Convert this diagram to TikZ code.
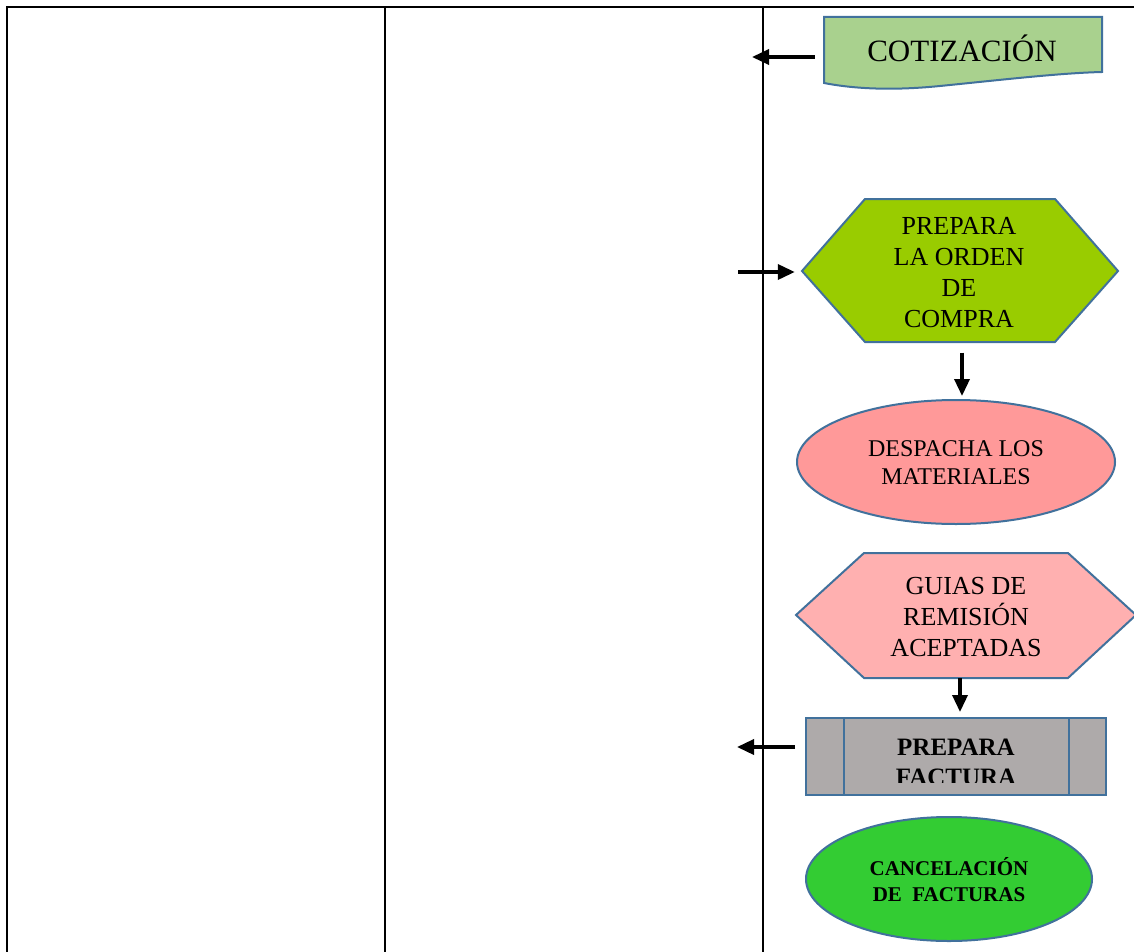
\documentclass[tikz,border=0pt]{standalone}
\usepackage{fontspec}
\setmainfont{Liberation Serif}
\usetikzlibrary{arrows.meta,shapes.geometric}

\definecolor{edgeblue}{HTML}{41719C}
\definecolor{docgreen}{HTML}{A9D18E}
\definecolor{ordergreen}{HTML}{99CC00}
\definecolor{salmon}{HTML}{FF9999}
\definecolor{lightpink}{HTML}{FFB0B0}
\definecolor{boxgray}{HTML}{AEAAAA}
\definecolor{brightgreen}{HTML}{33CC33}

\tikzset{
  grid/.style={line width=2pt, black},
  shapeline/.style={draw=edgeblue, line width=2pt},
  flow/.style={line width=3.5pt, -{Triangle[length=17pt,width=15pt]}},
  label/.style={align=center, inner sep=0pt, text=black},
}

\begin{document}
\begin{tikzpicture}[x=1pt,y=-1pt]
\useasboundingbox (0,0) rectangle (1134,952);

% table rules
\draw[grid] (1134,7) -- (7,7) -- (7,952);
\draw[grid] (385,7) -- (385,952);
\draw[grid] (763,7) -- (763,952);

% document shape
\path[shapeline, fill=docgreen] (824,17) -- (1102,17) -- (1102,72)
  .. controls (1060,73) and (1000,80) .. (940,86)
  .. controls (900,90) and (860,90) .. (824,83) -- cycle;
\node[label, font=\fontsize{31}{36}\selectfont] (cot) at (962,48) {COTIZACIÓN};
\node[inner sep=0pt, minimum width=278pt, minimum height=80pt] (cotbox) at (963,57) {};

% purchase order hexagon
\path[shapeline, fill=ordergreen] (802,271) -- (865,199) -- (1055,199) -- (1118,271)
  -- (1055,342) -- (865,342) -- cycle;
\node[inner sep=0pt, minimum width=316pt, minimum height=143pt] (orden) at (962,271) {};
\node[label, font=\fontsize{26}{31}\selectfont] (ordentxt) at (959,273)
  {PREPARA\\LA ORDEN\\DE\\COMPRA};

% dispatch ellipse
\node[ellipse, shapeline, fill=salmon, minimum width=318pt, minimum height=124pt,
  inner sep=0pt] (despacha) at (956,462) {};
\node[label, font=\fontsize{24}{28}\selectfont] (despachatxt) at (956,463)
  {DESPACHA LOS\\MATERIALES};

% accepted delivery notes hexagon
\path[shapeline, fill=lightpink] (796,615) -- (864,553) -- (1068,553) -- (1136,615)
  -- (1068,678) -- (864,678) -- cycle;
\node[inner sep=0pt, minimum width=340pt, minimum height=125pt] (guias) at (960,615.5) {};
\node[label, font=\fontsize{26}{31}\selectfont] (guiastxt) at (966,617)
  {GUIAS DE\\REMISIÓN\\ACEPTADAS};

% predefined process box
\node[shapeline, fill=boxgray, minimum width=300pt, minimum height=77pt,
  inner sep=0pt] (factura) at (956,756.5) {};
\draw[draw=edgeblue, line width=2pt] (844,718) -- (844,795);
\draw[draw=edgeblue, line width=2pt] (1069,718) -- (1069,795);
\begin{scope}
  \clip (807,719) rectangle (1105,782);
  \node[label, font=\bfseries\fontsize{25}{30}\selectfont] (facturatxt) at (956,762)
    {PREPARA\\FACTURA};
\end{scope}

% cancellation ellipse
\node[ellipse, shapeline, fill=brightgreen, minimum width=286pt, minimum height=124pt,
  inner sep=0pt] (cancel) at (949,879) {};
\node[label, font=\bfseries\fontsize{21}{26}\selectfont] (canceltxt) at (949,880)
  {CANCELACIÓN\\DE~~FACTURAS};

% free arrow ends
\coordinate (cotend) at (752,57);
\coordinate (ordenstart) at (738,272);
\coordinate (facturaend) at (737,747);

% connectors
\draw[flow, shorten <=9pt] (cotbox.west |- cotend) -- (cotend);
\draw[flow, shorten >=9pt] (ordenstart) -- (orden.west |- ordenstart);
\draw[flow, shorten <=10pt, shorten >=3pt] (orden.south) -- (orden.south |- despacha.north);
\draw[flow, shorten >=5pt] (guias.south) -- (guias.south |- factura.north);
\draw[flow, shorten <=10pt] (factura.west |- facturaend) -- (facturaend);
\end{tikzpicture}
\end{document}
